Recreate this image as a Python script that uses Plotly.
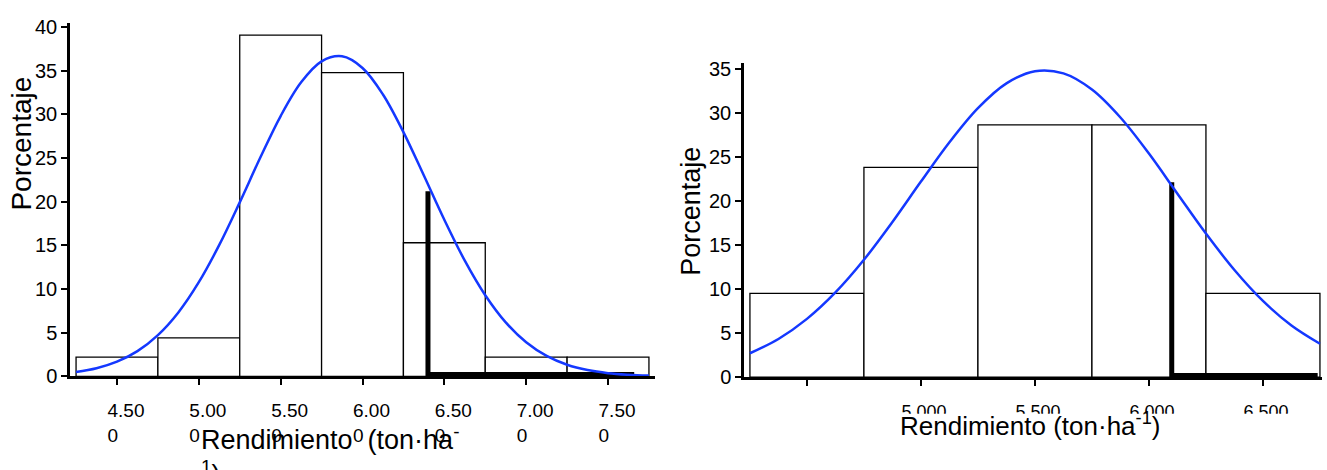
import plotly.graph_objects as go

W, H = 1327, 470

# ---------------- data ----------------
left_bins = [4.5, 5.0, 5.5, 6.0, 6.5, 7.0, 7.5]
left_pct = [2.2, 4.4, 39.1, 34.8, 15.3, 2.2, 2.2]
left_tick_main = ["4.50", "5.00", "5.50", "6.00", "6.50", "7.00", "7.50"]
left_ticks = [t + "<br>0\u00a0\u00a0\u00a0\u00a0\u00a0" for t in left_tick_main]
left_yticks = [0, 5, 10, 15, 20, 25, 30, 35, 40]

left_curve_x = [4.25, 4.375, 4.5, 4.625, 4.75, 4.875, 5.0, 5.125, 5.25, 5.375, 5.5,
                5.625, 5.75, 5.875, 6.0, 6.125, 6.25, 6.375, 6.5, 6.625, 6.75,
                6.875, 7.0, 7.125, 7.25, 7.375, 7.5, 7.625, 7.75]
left_curve_y = [0.48, 0.92, 1.67, 2.88, 4.72, 7.32, 10.78, 15.05, 19.93, 25.03, 29.82,
                33.68, 36.08, 36.66, 35.33, 32.29, 27.98, 23.00, 17.93, 13.25, 9.29,
                6.18, 3.90, 2.33, 1.32, 0.71, 0.36, 0.18, 0.08]

left_cut_x = [6.4, 6.4, 7.66]
left_cut_y = [21.2, 0.2, 0.2]

right_bins = [4.5, 5.0, 5.5, 6.0, 6.5]
right_pct = [9.5, 23.8, 28.6, 28.6, 9.5]
right_ticks = ["", "5.000", "5.500", "6.000", "6.500"]
right_yticks = [0, 5, 10, 15, 20, 25, 30, 35]

right_curve_x = [4.25, 4.375, 4.5, 4.625, 4.75, 4.875, 5.0, 5.125, 5.25, 5.375, 5.5,
                 5.625, 5.75, 5.875, 6.0, 6.125, 6.25, 6.375, 6.5, 6.625, 6.75]
right_curve_y = [2.72, 4.34, 6.62, 9.62, 13.32, 17.60, 22.18, 26.64, 30.51, 33.32, 34.70,
                 34.45, 32.62, 29.45, 25.36, 20.81, 16.29, 12.16, 8.65, 5.87, 3.80]

right_cut_x = [6.1, 6.1, 6.74]
right_cut_y = [22.1, 0.2, 0.2]

# ---------------- figure ----------------
FONT = "Liberation Sans, Arial, sans-serif"
BLUE = "#1438ff"

fig = go.Figure()

def add_panel(xa, ya, bins, pct, cx, cy, kx, ky):
    fig.add_trace(go.Bar(x=bins, y=pct, width=0.5, xaxis=xa, yaxis=ya,
                         marker=dict(color="white", line=dict(color="black", width=1.3)),
                         hoverinfo="skip"))
    fig.add_trace(go.Scatter(x=kx, y=ky, mode="lines", xaxis=xa, yaxis=ya,
                             line=dict(color="black", width=5), hoverinfo="skip"))
    fig.add_trace(go.Scatter(x=cx, y=cy, mode="lines", xaxis=xa, yaxis=ya,
                             line=dict(color=BLUE, width=2.5, shape="spline"),
                             hoverinfo="skip"))

add_panel("x", "y", left_bins, left_pct, left_curve_x, left_curve_y, left_cut_x, left_cut_y)
add_panel("x2", "y2", right_bins, right_pct, right_curve_x, right_curve_y, right_cut_x, right_cut_y)

def px_x(p):
    return p / W

def px_y(p):
    return 1 - p / H

axis_common = dict(showgrid=False, zeroline=False, showline=True, linecolor="black",
                   linewidth=2.5, ticks="outside", ticklen=6, tickwidth=2,
                   tickcolor="black")

def tf(size):
    return dict(family=FONT, size=size, color="black")

fig.update_layout(
    width=W, height=H,
    margin=dict(l=0, r=0, t=0, b=0),
    paper_bgcolor="white", plot_bgcolor="white",
    showlegend=False, barmode="overlay",
    font=dict(family=FONT, color="black"),
    xaxis=dict(domain=[px_x(70), px_x(655)], range=[4.213, 7.787], anchor="y",
               tickmode="array", tickvals=left_bins, ticktext=left_ticks,
               ticklabelshift=9, ticklabelstandoff=9, tickfont=tf(19), **axis_common),
    yaxis=dict(domain=[px_y(384), px_y(17)], range=[0, 40.44], anchor="x",
               tickmode="array", tickvals=left_yticks, tickfont=tf(20), **axis_common),
    xaxis2=dict(domain=[px_x(744), px_x(1322)], range=[4.224, 6.759], anchor="y2",
                tickmode="array", tickvals=right_bins, ticktext=right_ticks,
                ticklabelshift=3, ticklabelstandoff=10, tickfont=tf(18), **axis_common),
    yaxis2=dict(domain=[px_y(385), px_y(58)], range=[0, 35.65], anchor="x2",
                tickmode="array", tickvals=right_yticks, tickfont=tf(20), **axis_common),
)

# white mask that clips the lower part of the right-hand tick labels (as in the original)
fig.add_shape(type="rect", xref="paper", yref="paper", layer="above",
              x0=px_x(745), x1=1, y0=0, y1=px_y(423),
              fillcolor="white", line=dict(width=0))

fig.add_annotation(text="Porcentaje", textangle=-90, x=px_x(22), y=px_y(142),
                   xref="paper", yref="paper", xanchor="center", yanchor="middle",
                   showarrow=False, font=tf(28))
fig.add_annotation(text="Porcentaje", textangle=-90, x=px_x(691), y=px_y(213),
                   xref="paper", yref="paper", xanchor="center", yanchor="middle",
                   showarrow=False, font=tf(27))
fig.add_annotation(text="Rendimiento  (ton·ha<sup>-</sup><br><sup>1</sup>)",
                   x=px_x(199), y=px_y(428), xref="paper", yref="paper",
                   xanchor="left", yanchor="top", align="left", showarrow=False,
                   font=tf(27))
fig.add_annotation(text="Rendimiento (ton·ha<sup>-1</sup>)",
                   x=px_x(1030), y=px_y(434), xref="paper", yref="paper",
                   xanchor="center", yanchor="middle", showarrow=False,
                   font=tf(26))

fig.write_html("out.html", config={"displayModeBar": False},
               post_script="document.body.style.margin='0';")
